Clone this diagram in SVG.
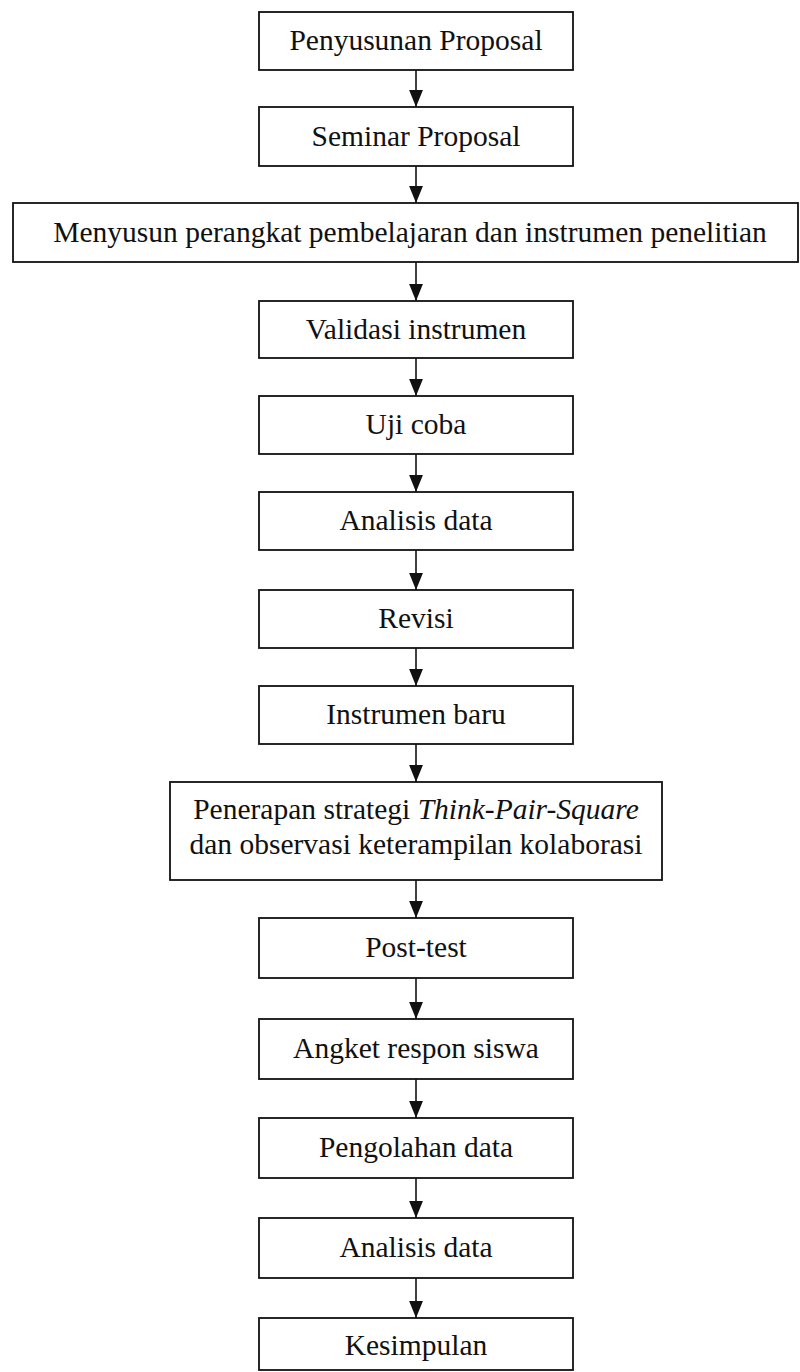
<svg xmlns="http://www.w3.org/2000/svg" width="800" height="1372" viewBox="0 0 800 1372">
<style>
.box{fill:#fff;stroke:#111;stroke-width:1.8}
.t{font-family:"Liberation Serif","Times New Roman",serif;font-size:29.5px;fill:#111;text-anchor:middle}
.c{stroke:#111;stroke-width:1.6;fill:none}
</style>
<defs>
<marker id="ah" markerUnits="userSpaceOnUse" markerWidth="17" markerHeight="14" refX="16" refY="6.5" orient="auto" viewBox="0 0 16 13">
<path d="M0,0 L16,6.5 L0,13 Z" fill="#111"/>
</marker>
</defs>
<rect width="800" height="1372" fill="#fff"/>
<g id="connectors">
<path class="c" d="M416,70 V107" marker-end="url(#ah)"/>
<path class="c" d="M416,166 V203" marker-end="url(#ah)"/>
<path class="c" d="M416,262 V301" marker-end="url(#ah)"/>
<path class="c" d="M416,358 V396" marker-end="url(#ah)"/>
<path class="c" d="M416,454 V492" marker-end="url(#ah)"/>
<path class="c" d="M416,550 V590" marker-end="url(#ah)"/>
<path class="c" d="M416,648 V686" marker-end="url(#ah)"/>
<path class="c" d="M416,744 V782" marker-end="url(#ah)"/>
<path class="c" d="M416,880 V918" marker-end="url(#ah)"/>
<path class="c" d="M416,978 V1019" marker-end="url(#ah)"/>
<path class="c" d="M416,1079 V1118" marker-end="url(#ah)"/>
<path class="c" d="M416,1178 V1218" marker-end="url(#ah)"/>
<path class="c" d="M416,1278 V1318" marker-end="url(#ah)"/>
</g>
<g id="n1"><rect class="box" x="259" y="12" width="314" height="58"/><text class="t" x="416" y="50">Penyusunan Proposal</text></g>
<g id="n2"><rect class="box" x="259" y="107" width="314" height="59"/><text class="t" x="416" y="146">Seminar Proposal</text></g>
<g id="n3"><rect class="box" x="13" y="203" width="785" height="59"/><text class="t" x="410" y="242">Menyusun perangkat pembelajaran dan instrumen penelitian</text></g>
<g id="n4"><rect class="box" x="259" y="301" width="314" height="57"/><text class="t" x="416" y="339">Validasi instrumen</text></g>
<g id="n5"><rect class="box" x="259" y="396" width="314" height="58"/><text class="t" x="416" y="434">Uji coba</text></g>
<g id="n6"><rect class="box" x="259" y="492" width="314" height="58"/><text class="t" x="416" y="530">Analisis data</text></g>
<g id="n7"><rect class="box" x="259" y="590" width="314" height="58"/><text class="t" x="416" y="628">Revisi</text></g>
<g id="n8"><rect class="box" x="259" y="686" width="314" height="58"/><text class="t" x="416" y="724">Instrumen baru</text></g>
<g id="n9"><rect class="box" x="170" y="782" width="492" height="98"/><text class="t" x="416" y="819">Penerapan strategi <tspan font-style="italic">Think-Pair-Square</tspan></text><text class="t" x="416" y="854">dan observasi keterampilan kolaborasi</text></g>
<g id="n10"><rect class="box" x="259" y="918" width="314" height="60"/><text class="t" x="416" y="957">Post-test</text></g>
<g id="n11"><rect class="box" x="259" y="1019" width="314" height="60"/><text class="t" x="416" y="1058">Angket respon siswa</text></g>
<g id="n12"><rect class="box" x="259" y="1118" width="314" height="60"/><text class="t" x="416" y="1157">Pengolahan data</text></g>
<g id="n13"><rect class="box" x="259" y="1218" width="314" height="60"/><text class="t" x="416" y="1257">Analisis data</text></g>
<g id="n14"><rect class="box" x="259" y="1318" width="314" height="52"/><text class="t" x="416" y="1355">Kesimpulan</text></g>
</svg>
